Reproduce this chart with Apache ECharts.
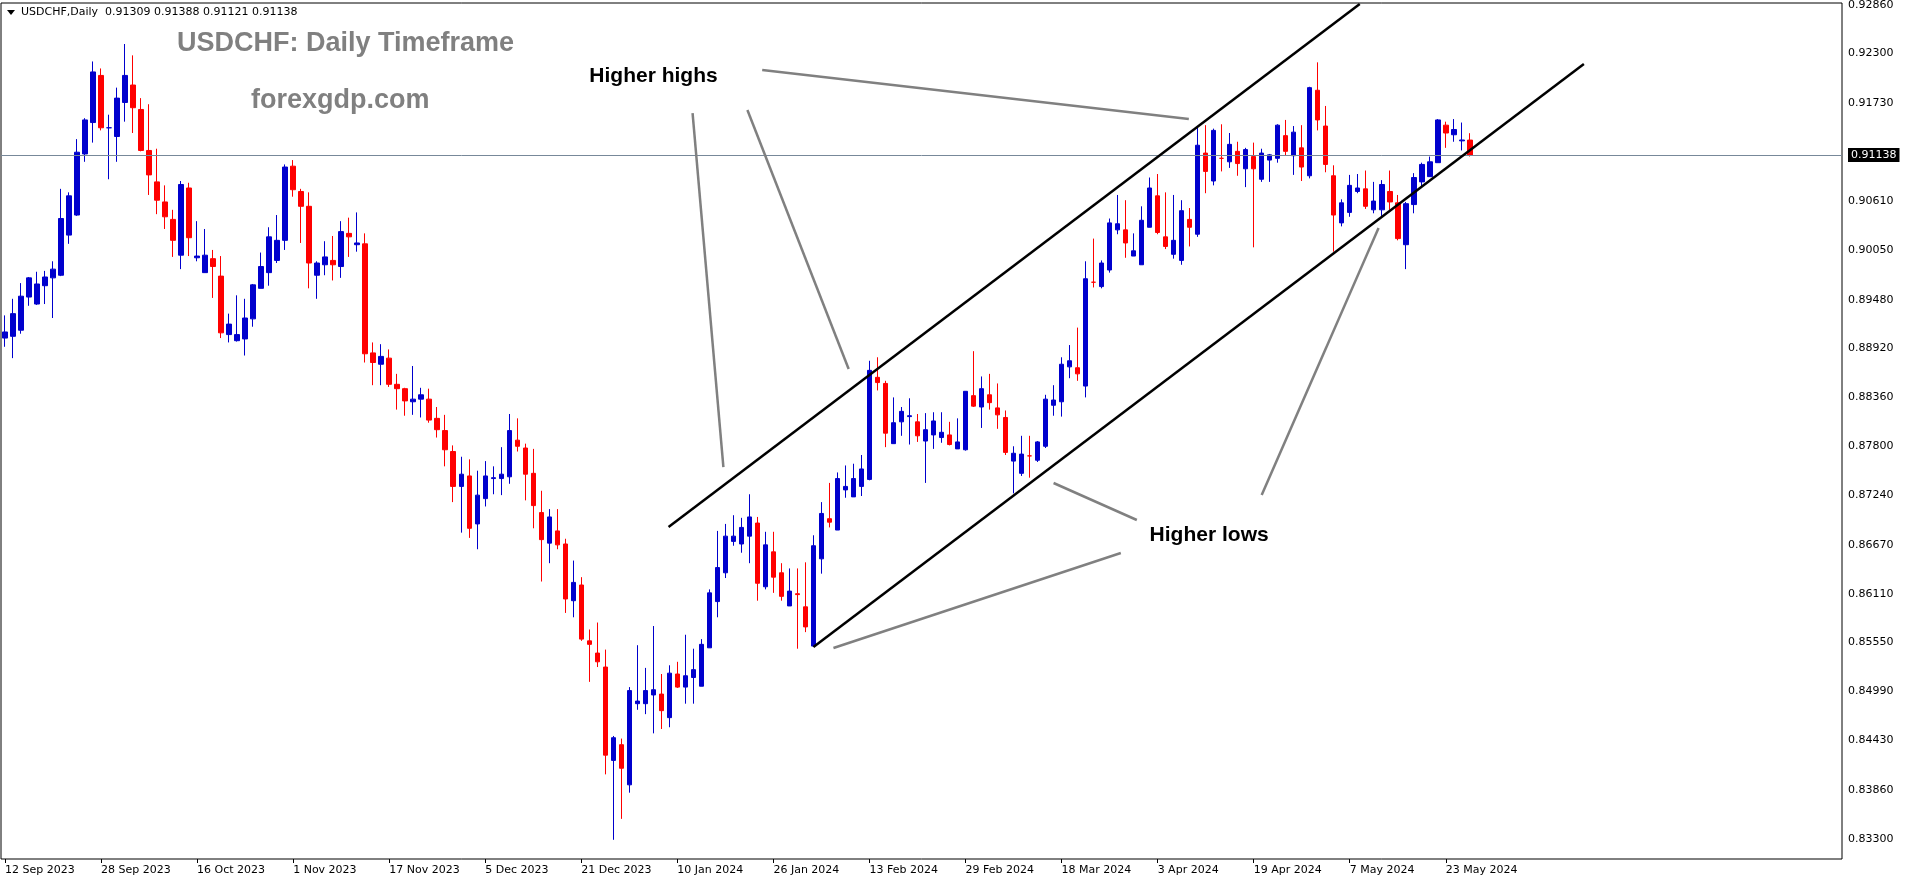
<!DOCTYPE html>
<html><head><meta charset="utf-8">
<script src="https://cdn.jsdelivr.net/npm/echarts@6/dist/echarts.min.js"></script>
<style>html,body{margin:0;padding:0;background:#fff}#c{width:1916px;height:884px}</style>
</head><body><div id="c"></div>
<script>
const opens=[.8904,.8906,.8913,.8951,.8943,.8964,.8973,.8976,.9022,.9045,.9115,.9151,.9205,.9145,.9135,.9174,.9194,.9166,.9119,.9083,.9060,.9040,.8999,.9076,.8996,.8979,.8995,.8975,.8908,.8901,.8903,.8926,.8961,.8979,.8993,.9016,.9101,.9072,.9055,.8976,.8988,.8993,.8986,.9024,.9011,.9012,.8887,.8874,.8881,.8851,.8846,.8831,.8834,.8834,.8812,.8798,.8774,.8734,.8746,.8691,.8720,.8743,.8743,.8745,.8787,.8778,.8749,.8704,.8669,.8683,.8668,.8603,.8621,.8557,.8543,.8527,.8420,.8438,.8392,.8485,.8485,.8495,.8496,.8469,.8519,.8504,.8515,.8505,.8549,.8602,.8635,.8671,.8668,.8677,.8692,.8619,.8659,.8635,.8597,.8611,.8596,.8551,.8651,.8697,.8684,.8730,.8722,.8734,.8742,.8859,.8852,.8783,.8808,.8814,.8808,.8786,.8793,.8790,.8793,.8777,.8776,.8838,.8825,.8839,.8824,.8813,.8763,.8749,.8769,.8764,.8780,.8827,.8831,.8871,.8870,.8849,.8968,.8963,.8982,.9028,.9028,.8998,.8988,.9031,.9067,.9020,.9000,.8993,.9040,.9023,.9116,.9084,.9110,.9106,.9118,.9098,.9112,.9086,.9108,.9110,.9136,.9113,.9122,.9090,.9188,.9147,.9090,.9036,.9048,.9072,.9075,.9051,.9051,.9072,.9059,.9011,.9057,.9083,.9089,.9105,.9148,.9137,.9130,.91309];
const highs=[.8930,.8949,.8967,.8974,.8980,.8981,.8992,.9075,.9071,.9132,.9156,.9221,.9213,.9160,.9191,.9241,.9228,.9179,.9172,.9121,.9079,.9051,.9084,.9082,.9038,.9029,.9005,.8998,.8932,.8953,.8949,.8966,.9002,.9031,.9045,.9103,.9108,.9075,.9071,.8992,.9015,.9021,.9038,.9042,.9048,.9024,.8899,.8897,.8891,.8863,.8847,.8872,.8847,.8846,.8825,.8816,.8781,.8768,.8765,.8752,.8763,.8757,.8779,.8817,.8812,.8783,.8777,.8729,.8708,.8708,.8674,.8649,.8630,.8570,.8578,.8547,.8448,.8445,.8504,.8552,.8526,.8574,.8519,.8529,.8533,.8564,.8548,.8559,.8616,.8683,.8691,.8701,.8698,.8725,.8699,.8682,.8682,.8646,.8640,.8640,.8647,.8678,.8716,.8738,.8750,.8758,.8760,.8770,.8878,.8882,.8855,.8836,.8825,.8835,.8817,.8818,.8819,.8819,.8808,.8812,.8843,.8889,.8860,.8863,.8852,.8821,.8780,.8792,.8792,.8786,.8839,.8850,.8882,.8896,.8916,.8992,.9018,.8993,.9041,.9068,.9062,.9024,.9055,.9088,.9092,.9071,.9068,.9062,.9053,.9146,.9148,.9144,.9149,.9139,.9129,.9122,.9128,.9121,.9115,.9149,.9154,.9147,.9148,.9192,.9220,.9170,.9102,.9063,.9091,.9092,.9096,.9083,.9085,.9096,.9068,.9060,.9093,.9105,.9112,.9155,.9152,.9155,.9151,.91388];
const lows=[.8894,.8881,.8909,.8941,.8942,.8943,.8927,.8975,.9012,.9044,.9106,.9128,.9142,.9086,.9106,.9152,.9139,.9118,.9068,.9046,.9029,.8997,.8983,.8998,.8992,.8979,.8950,.8904,.8899,.8900,.8884,.8917,.8961,.8964,.8990,.9005,.9066,.9013,.8961,.8949,.8976,.8970,.8973,.8997,.9003,.8876,.8850,.8850,.8848,.8822,.8815,.8816,.8813,.8807,.8790,.8757,.8716,.8681,.8675,.8662,.8711,.8725,.8724,.8737,.8774,.8718,.8686,.8625,.8646,.8662,.8589,.8584,.8557,.8510,.8527,.8404,.8329,.8353,.8383,.8478,.8473,.8451,.8456,.8458,.8503,.8485,.8485,.8505,.8549,.8584,.8629,.8666,.8658,.8646,.8603,.8616,.8612,.8603,.8597,.8548,.8567,.8550,.8634,.8687,.8684,.8721,.8722,.8723,.8741,.8844,.8779,.8783,.8792,.8782,.8785,.8738,.8777,.8784,.8781,.8777,.8775,.8825,.8801,.8822,.8800,.8770,.8726,.8746,.8744,.8762,.8778,.8815,.8814,.8858,.8855,.8836,.8962,.8961,.8979,.9023,.8996,.8998,.8988,.9031,.9023,.9006,.8995,.8988,.9009,.9020,.9070,.9079,.9095,.9099,.9090,.9077,.9008,.9083,.9083,.9105,.9113,.9091,.9084,.9087,.9142,.9094,.9003,.9032,.9043,.9070,.9052,.9047,.9044,.9051,.9016,.8983,.9047,.9076,.9089,.9105,.9122,.9129,.9119,.91121];
const closes=[.8911,.8932,.8952,.8973,.8966,.8974,.8983,.9041,.9067,.9117,.9154,.9209,.9145,.9145,.9179,.9205,.9168,.9119,.9091,.9062,.9043,.9016,.9080,.9019,.8998,.8999,.8986,.8910,.8920,.8908,.8927,.8965,.8986,.9020,.9016,.9100,.9074,.9055,.8990,.8990,.8997,.8988,.9026,.9020,.9013,.8886,.8876,.8883,.8851,.8846,.8832,.8834,.8839,.8810,.8799,.8776,.8734,.8748,.8686,.8724,.8746,.8744,.8748,.8798,.8780,.8748,.8712,.8673,.8699,.8667,.8605,.8624,.8559,.8553,.8533,.8426,.8446,.8411,.8500,.8488,.8500,.8501,.8477,.8520,.8504,.8517,.8524,.8553,.8612,.8641,.8677,.8677,.8687,.8699,.8623,.8667,.8630,.8608,.8614,.8610,.8573,.8666,.8703,.8693,.8743,.8734,.8743,.8754,.8867,.8853,.8795,.8807,.8820,.8815,.8792,.8799,.8809,.8796,.8782,.8785,.8843,.8826,.8846,.8830,.8816,.8773,.8772,.8771,.8769,.8785,.8834,.8833,.8874,.8878,.8863,.8972,.8968,.8990,.9036,.9035,.9013,.9004,.9039,.9076,.9025,.9009,.9016,.9050,.9031,.9125,.9095,.9142,.9110,.9126,.9104,.9120,.9098,.9116,.9114,.9148,.9118,.9140,.9100,.9191,.9154,.9103,.9045,.9059,.9079,.9076,.9055,.9061,.9080,.9060,.9018,.9058,.9088,.9103,.9106,.9154,.9139,.9143,.9131,.91138];
const priceTicks=[0.92860,0.92300,0.91730,0.90610,0.90050,0.89480,0.88920,0.88360,0.87800,0.87240,0.86670,0.86110,0.85550,0.84990,0.84430,0.83860,0.83300];
const currentPrice=0.91138;
const holidays=['2023-12-25','2024-01-01'];
const futureBars=46;
const channelUpper=[[82.9,0.86875],[169.25,0.92868]];
const channelLower=[[101,0.85500],[197.25,0.92181]];
const pointers=[
 [[94.6,0.92112],[147.9,0.91550]],
 [[85.9,0.91619],[89.75,0.87562]],
 [[92.75,0.91653],[105.4,0.88685]],
 [[131,0.87379],[141.4,0.86955]],
 [[139.4,0.86577],[103.5,0.85488]],
 [[171.6,0.90301],[157,0.87241]]
];
const notes=[{text:'Higher highs',at:[73,0.92043]},{text:'Higher lows',at:[143,0.86783]}];

const mon=['Jan','Feb','Mar','Apr','May','Jun','Jul','Aug','Sep','Oct','Nov','Dec'];
const dates=[];
let d=new Date(Date.UTC(2023,8,12));
while(dates.length<opens.length){
  const iso=d.toISOString().slice(0,10);
  const wd=d.getUTCDay();
  if(wd!==0&&wd!==6&&holidays.indexOf(iso)<0) dates.push(d.getUTCDate()+' '+mon[d.getUTCMonth()]+' '+d.getUTCFullYear());
  d=new Date(d.getTime()+86400000);
}
const cats=dates.slice();
for(let i=0;i<futureBars;i++) cats.push('f'+i);
const data=opens.map((o,i)=>[o,closes[i],lows[i],highs[i]]);

const chart=echarts.init(document.getElementById('c'));
const F='DejaVu Sans';
const ml=priceTicks.map(v=>({yAxis:v,lineStyle:{color:'rgba(0,0,0,0)',width:1},label:{show:true,formatter:v.toFixed(5),color:'#000'}}));
ml.push({yAxis:currentPrice,lineStyle:{color:'#778899',width:1,type:'solid'},
  label:{show:true,formatter:currentPrice.toFixed(5),backgroundColor:'#000',color:'#fff',padding:[2,3,1,3]}});
chart.setOption({
  animation:false,
  grid:{left:1,right:74,top:3,bottom:25,show:true,borderColor:'#000',borderWidth:1,backgroundColor:'#fff'},
  xAxis:{type:'category',data:cats,boundaryGap:true,
    axisLine:{show:false},
    axisTick:{show:true,alignWithLabel:true,interval:(i)=>i%12===0&&i<dates.length,length:4,lineStyle:{color:'#000'}},
    axisLabel:{interval:(i)=>i%12===0&&i<dates.length,align:'left',margin:6,color:'#000',fontFamily:F,fontSize:11},
    splitLine:{show:false}},
  yAxis:{type:'value',min:0.8307,max:0.9288,position:'right',axisLabel:{show:false},axisTick:{show:false},axisLine:{show:false},splitLine:{show:false}},
  series:[{type:'candlestick',data:data,barWidth:5,
    itemStyle:{color:'#0000CD',color0:'#FF0000',borderColor:'#0000CD',borderColor0:'#FF0000',borderWidth:1},
    markLine:{silent:true,symbol:['none','none'],precision:5,
      label:{show:true,position:'end',distance:6,color:'#000',fontFamily:F,fontSize:11},
      data:ml}}]
});
const x0=chart.convertToPixel({xAxisIndex:0},0), x1=chart.convertToPixel({xAxisIndex:0},100);
const toPix=(p)=>[x0+(x1-x0)*p[0]/100, chart.convertToPixel({yAxisIndex:0},p[1])];
const g=[];
const addLine=(seg,color,w)=>{const a=toPix(seg[0]),b=toPix(seg[1]);
  g.push({type:'line',shape:{x1:a[0],y1:a[1],x2:b[0],y2:b[1]},style:{stroke:color,lineWidth:w},z:100});};
addLine(channelUpper,'#000',2.5);
addLine(channelLower,'#000',2.5);
pointers.forEach(s=>addLine(s,'#808080',2.5));
notes.forEach(n=>{const p=toPix(n.at);g.push({type:'text',x:p[0],y:p[1],style:{text:n.text,fill:'#000',font:'bold 21px "Liberation Sans"',textVerticalAlign:'middle'},z:101});});
g.push({type:'text',x:177,y:30,style:{text:'USDCHF: Daily Timeframe',fill:'#808080',font:'bold 27px "Liberation Sans"'},z:101});
g.push({type:'text',x:251,y:87,style:{text:'forexgdp.com',fill:'#808080',font:'bold 27px "Liberation Sans"'},z:101});
g.push({type:'polygon',shape:{points:[[7,10],[15,10],[11,15]]},style:{fill:'#000'},z:101});
g.push({type:'text',x:21,y:7,style:{text:'USDCHF,Daily  0.91309 0.91388 0.91121 0.91138',fill:'#000',font:'11px "DejaVu Sans"'},z:101});
chart.setOption({graphic:g});
</script></body></html>
